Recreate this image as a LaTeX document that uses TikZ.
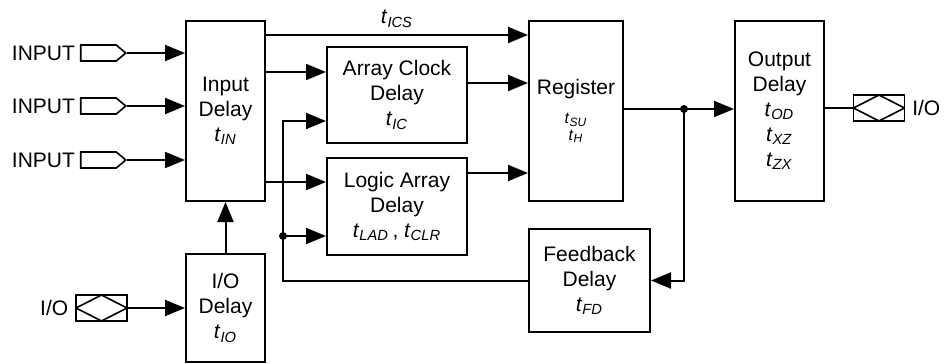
\documentclass[tikz,border=0pt]{standalone}
\usepackage{fontspec}
\setmainfont{Liberation Sans}
\usetikzlibrary{arrows.meta,shapes.symbols}
\newcommand{\dl}[1]{\textit{t}\textsubscript{\textit{#1}}}

\begin{document}
\begin{tikzpicture}[x=0.5pt, y=-0.5pt, line width=1pt, font=\fontsize{10.5}{12.5}\selectfont,
		box/.style 2 args={draw, align=center, minimum width=#1*0.5pt, minimum height=#2*0.5pt, inner sep=0pt},
		pin/.style={draw, line width=0.8pt, signal, signal to=east, signal pointer angle=80, minimum width=22.5pt, minimum height=8pt, inner sep=0pt},
		iopin/.style={draw, line width=0.8pt, minimum width=25.5pt, minimum height=13pt, inner sep=0pt, path picture={\draw (path picture bounding box.west) -- (path picture bounding box.north) -- (path picture bounding box.east) -- (path picture bounding box.south) -- cycle;}},
		arr/.style={-{Triangle[length=10pt, width=8pt]}}]
		\useasboundingbox (0,0) rectangle (944,364);
		\node[box={79}{180}] (in) at (225.5,111) {Input\\Delay\\\dl{IN}};
		\node[box={79}{108}] (iod) at (225.5,308) {I/O\\Delay\\\dl{IO}};
		\node[box={140}{96}] (acd) at (397,95) {Array Clock\\Delay\\\dl{IC}};
		\node[box={140}{97}] (lad) at (397,206.5) {Logic Array\\Delay\\\dl{LAD}\,, \dl{CLR}};
		\node[box={94}{180}] (reg) at (576,111) {Register\\[2pt]\footnotesize\dl{SU}\\[-4pt]\footnotesize\dl{H}};
		\node[box={121}{103}] (fbd) at (589.5,280.5) {Feedback\\Delay\\\dl{FD}};
		\node[box={89}{180}] (out) at (779.5,111) {Output\\Delay\\\dl{OD}\\\dl{XZ}\\\dl{ZX}};
		\node[pin, label={[inner sep=2pt]left:INPUT}] (p1) at (98.5,53) {};
		\node[pin, label={[inner sep=2pt]left:INPUT}] (p2) at (98.5,106) {};
		\node[pin, label={[inner sep=2pt]left:INPUT}] (p3) at (98.5,160) {};
		\node[iopin, label={[inner sep=3pt]left:I/O}] (iol) at (101.5,308) {};
		\node[iopin, label={[inner sep=3pt]right:I/O}] (ior) at (879,108) {};
		\coordinate (j) at (684,109);
		\coordinate (k) at (283,236);
		\foreach \p in {p1,p2,p3}
			\draw[arr] (\p.east) -- (\p.east -| in.west);
		\draw[arr] (iol) -- (iod);
		\draw[arr] (iod) -- (in);
		\draw[arr] (in.east |- 0,35) -- (reg.west |- 0,35) node[midway, above] {\dl{ICS}};
		\draw[arr] (in.east |- 0,72) -- (acd.west |- 0,72);
		\draw[arr] (in.east |- 0,182) -- (lad.west |- 0,182);
		\draw[arr] (acd.east |- 0,83) -- (reg.west |- 0,83);
		\draw[arr] (lad.east |- 0,173) -- (reg.west |- 0,173);
		\draw[arr] (reg.east |- j) -- (out.west |- j);
		\draw[arr] (j) |- (fbd.east);
		\draw[arr] (fbd.west) -| (k) |- (acd.west |- 0,121);
		\draw[arr] (k) -- (lad.west |- k);
		\draw (out.east |- ior) -- (ior);
		\fill (j) circle (2pt);
		\fill (k) circle (2pt);
	\end{tikzpicture}
\end{document}
